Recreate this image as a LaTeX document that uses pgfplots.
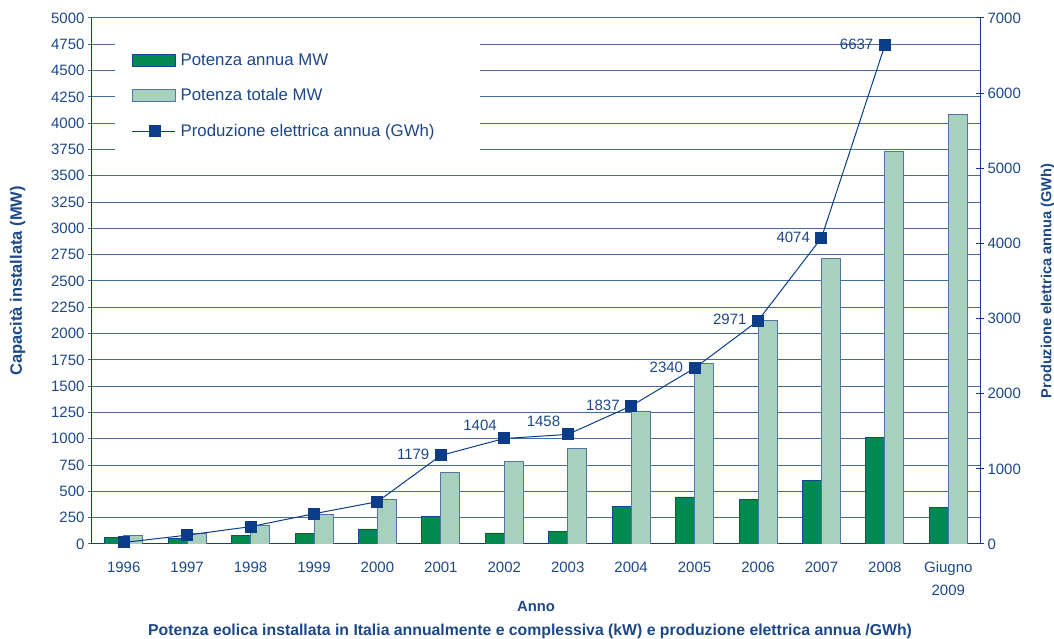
\documentclass[border=0pt]{standalone}
\usepackage{pgfplots}
\pgfplotsset{compat=1.18}
\usepackage{fontspec}
\setmainfont{Liberation Sans}
\definecolor{txt}{RGB}{28,72,135}
\definecolor{gridc}{RGB}{70,105,158}
\definecolor{axisc}{RGB}{20,60,130}
\definecolor{dgreen}{RGB}{0,137,80}
\definecolor{lgreen}{RGB}{168,208,190}
\definecolor{navy}{RGB}{10,60,135}
\definecolor{baredge}{RGB}{25,70,140}
\begin{document}
\begin{tikzpicture}[font=\fontsize{15}{17}\selectfont]
\begin{axis}[
  name=ax,
  scale only axis, width=888pt, height=526pt,
  xmin=-0.5, xmax=13.5, ymin=0, ymax=5000,
  axis y line*=left, axis x line*=bottom,
  axis line style={draw=axisc, line width=1pt},
  xtick={0,1,...,13},
  xticklabels={1996,1997,1998,1999,2000,2001,2002,2003,2004,2005,2006,2007,2008,{Giugno\\2009}},
  xticklabel style={align=center, text=txt, yshift=-10pt, font=\fontsize{15}{23}\selectfont},
  major x tick style={draw=none},
  extra x ticks={-0.5,0.5,1.5,2.5,3.5,4.5,5.5,6.5,7.5,8.5,9.5,10.5,11.5,12.5,13.5},
  extra x tick labels={},
  extra x tick style={major tick length=7pt, tick align=outside, tick style={draw=axisc, line width=1pt}},
  ytick={0,250,...,5000},
  ymajorgrids, grid style={draw=gridc, line width=1pt},
  tick align=outside, major tick length=4pt,
  y tick style={draw=gridc, line width=1pt},
  yticklabel style={text=txt},
  /pgf/number format/1000 sep={},
  /pgf/number format/assume math mode=true,
  ylabel={\bfseries Capacità installata (MW)},
  ylabel style={text=txt, font=\fontsize{16.5}{18}\selectfont, yshift=19pt},
  xlabel={\bfseries Anno},
  xlabel style={text=txt, font=\fontsize{14.8}{17}\selectfont, yshift=12pt},
  ybar=0pt, bar width=19pt,
]
\fill[white] (rel axis cs:0.026,0.977) rectangle (rel axis cs:0.437,0.749);
\addplot[fill=dgreen, draw=baredge, line width=0.8pt] coordinates {
 (0,63) (1,50) (2,85) (3,98) (4,143) (5,266) (6,105) (7,121) (8,361) (9,447) (10,421) (11,605) (12,1017) (13,349)};
\addplot[fill=lgreen, draw=baredge!75, line width=0.8pt] coordinates {
 (0,80) (1,100) (2,180) (3,282) (4,421) (5,678) (6,786) (7,904) (8,1265) (9,1718) (10,2123) (11,2714) (12,3736) (13,4087)};
\end{axis}
\begin{axis}[
  scale only axis, width=888pt, height=526pt,
  xmin=-0.5, xmax=13.5, ymin=0, ymax=7000,
  axis y line*=right, axis x line=none,
  axis line style={draw=axisc, line width=1pt},
  ytick={0,1000,...,7000},
  tick align=center, major tick length=8pt,
  y tick style={draw=axisc, line width=1pt},
  yticklabel style={text=txt},
  /pgf/number format/1000 sep={},
  /pgf/number format/assume math mode=true,
  ylabel={\bfseries Produzione elettrica annua (GWh)},
  ylabel style={text=txt, font=\fontsize{14.6}{16}\selectfont, yshift=-13pt},
  legend style={at={(0.041,0.94)}, anchor=north west, draw=none, fill=none,
    text=txt, row sep=18pt, font=\fontsize{16.8}{19}\selectfont,
    /tikz/every even column/.append style={column sep=4pt},
    /tikz/every odd column/.append style={column sep=3pt}},
  legend cell align=left,
]
\addlegendimage{legend image code/.code={\draw[draw=baredge, fill=dgreen, line width=0.8pt] (0pt,-6pt) rectangle (43pt,6pt);}}
\addlegendentry{Potenza annua MW}
\addlegendimage{legend image code/.code={\draw[draw=baredge!75, fill=lgreen, line width=0.8pt] (0pt,-6pt) rectangle (43pt,6pt);}}
\addlegendentry{Potenza totale MW}
\addplot[navy, line width=1pt, mark=square*, mark size=5.5pt, mark options={fill=navy, draw=navy},
  legend image code/.code={\draw[navy, line width=1pt] (0pt,0pt) -- (43pt,0pt); \fill[navy] (17pt,-5.5pt) rectangle (28pt,5.5pt);}]
 coordinates {(0,20) (1,118) (2,231) (3,403) (4,563) (5,1179) (6,1404) (7,1458) (8,1837) (9,2340) (10,2971) (11,4074) (12,6637)};
\addlegendentry{Produzione elettrica annua (GWh)}
\addplot[forget plot, draw=none, mark=none, nodes near coords, point meta=explicit symbolic,
  nodes near coords style={anchor=east, xshift=-8pt, yshift=1pt, text=txt, font=\fontsize{15}{17}\selectfont}]
 coordinates {(5,1179) [1179] (8,1837) [1837] (9,2340) [2340] (10,2971) [2971] (11,4074) [4074] (12,6637) [6637]};
\addplot[forget plot, draw=none, mark=none, nodes near coords, point meta=explicit symbolic,
  nodes near coords style={anchor=south east, xshift=-4pt, yshift=4pt, text=txt, font=\fontsize{15}{17}\selectfont}]
 coordinates {(6,1404) [1404] (7,1458) [1458]};
\end{axis}
\node[text=txt, font=\bfseries\fontsize{15.8}{18}\selectfont] at ([xshift=-6pt,yshift=-87pt]ax.south) {Potenza eolica installata in Italia annualmente e complessiva (kW) e produzione elettrica annua /GWh)};
\pgfresetboundingbox
\path ([shift={(-92pt,-95pt)}]ax.south west) rectangle ([shift={(74pt,18pt)}]ax.north east);
\end{tikzpicture}
\end{document}
